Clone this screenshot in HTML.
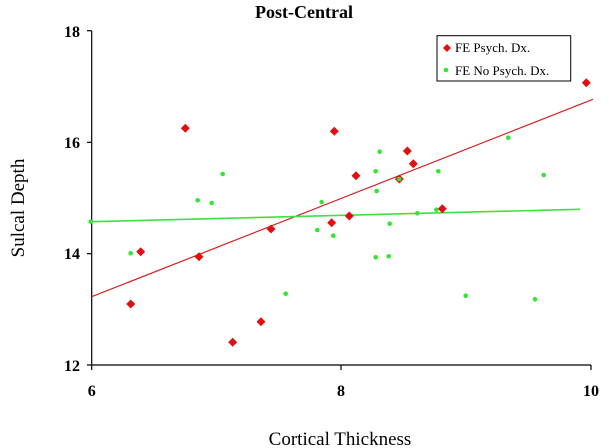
<!DOCTYPE html>
<html><head><style>html,body{margin:0;padding:0;background:#fff;}svg{display:block;}</style></head>
<body>
<svg width="609" height="448" viewBox="0 0 609 448" xmlns="http://www.w3.org/2000/svg" font-family="Liberation Serif, serif">
<rect width="609" height="448" fill="#fff"/>
<text x="304" y="18" font-size="18" font-weight="bold" text-anchor="middle">Post-Central</text>
<g stroke="#000" stroke-width="1.2">
<line x1="91.7" y1="30.7" x2="91.7" y2="365"/>
<line x1="91.7" y1="365" x2="591" y2="365"/>
<line x1="87" y1="30.7" x2="91.7" y2="30.7"/>
<line x1="87" y1="142.3" x2="91.7" y2="142.3"/>
<line x1="87" y1="253.7" x2="91.7" y2="253.7"/>
<line x1="87" y1="365" x2="91.7" y2="365"/>
<line x1="91.7" y1="365" x2="91.7" y2="370"/>
<line x1="341" y1="365" x2="341" y2="370"/>
<line x1="591" y1="365" x2="591" y2="370"/>
</g>
<g font-size="16" font-weight="bold" text-anchor="end">
<text x="80" y="37">18</text>
<text x="80" y="148">16</text>
<text x="80" y="259">14</text>
<text x="80" y="371">12</text>
</g>
<g font-size="16" font-weight="bold" text-anchor="middle">
<text x="91.7" y="396">6</text>
<text x="341" y="396">8</text>
<text x="591" y="396">10</text>
</g>
<text x="340" y="445" font-size="19" text-anchor="middle">Cortical Thickness</text>
<text transform="translate(24,208) rotate(-90)" font-size="19" text-anchor="middle">Sulcal Depth</text>
<line x1="91.7" y1="296.7" x2="593" y2="99.3" stroke="#d42020" stroke-width="1.2"/>
<line x1="91.7" y1="221.7" x2="580" y2="209.3" stroke="#40e040" stroke-width="1.6"/>
<g fill="#33e633">
<circle cx="90.7" cy="221.7" r="2.3"/><circle cx="130.7" cy="253.3" r="2.3"/><circle cx="197.7" cy="200.3" r="2.3"/>
<circle cx="211.7" cy="203" r="2.3"/><circle cx="222.7" cy="174" r="2.3"/><circle cx="285.7" cy="293.7" r="2.3"/>
<circle cx="317.3" cy="230" r="2.3"/><circle cx="321.7" cy="202" r="2.3"/><circle cx="333.3" cy="235.7" r="2.3"/>
<circle cx="375.7" cy="171.3" r="2.3"/><circle cx="379.7" cy="151.7" r="2.3"/><circle cx="376.7" cy="191" r="2.3"/>
<circle cx="375.7" cy="257.3" r="2.3"/><circle cx="388.7" cy="256.3" r="2.3"/><circle cx="389.7" cy="223.7" r="2.3"/>
<circle cx="417.3" cy="213.3" r="2.3"/><circle cx="436.3" cy="209.7" r="2.3"/>
<circle cx="438.3" cy="171.3" r="2.3"/><circle cx="465.7" cy="295.7" r="2.3"/><circle cx="508.3" cy="137.7" r="2.3"/>
<circle cx="535" cy="299.3" r="2.3"/><circle cx="543.7" cy="175" r="2.3"/>
</g>
<g fill="#e01010">
<path d="M0,-4.5L4.5,0L0,4.5L-4.5,0Z" transform="translate(130.7,304)"/>
<path d="M0,-4.5L4.5,0L0,4.5L-4.5,0Z" transform="translate(140.7,251.7)"/>
<path d="M0,-4.5L4.5,0L0,4.5L-4.5,0Z" transform="translate(185.3,128.3)"/>
<path d="M0,-4.5L4.5,0L0,4.5L-4.5,0Z" transform="translate(199,256.7)"/>
<path d="M0,-4.5L4.5,0L0,4.5L-4.5,0Z" transform="translate(232.7,342.3)"/>
<path d="M0,-4.5L4.5,0L0,4.5L-4.5,0Z" transform="translate(261,321.7)"/>
<path d="M0,-4.5L4.5,0L0,4.5L-4.5,0Z" transform="translate(271,229)"/>
<path d="M0,-4.5L4.5,0L0,4.5L-4.5,0Z" transform="translate(331.7,222.7)"/>
<path d="M0,-4.5L4.5,0L0,4.5L-4.5,0Z" transform="translate(334.3,131.3)"/>
<path d="M0,-4.5L4.5,0L0,4.5L-4.5,0Z" transform="translate(349.3,216)"/>
<path d="M0,-4.5L4.5,0L0,4.5L-4.5,0Z" transform="translate(356,175.7)"/>
<path d="M0,-4.5L4.5,0L0,4.5L-4.5,0Z" transform="translate(399.3,179)"/>
<path d="M0,-4.5L4.5,0L0,4.5L-4.5,0Z" transform="translate(407.3,151)"/>
<path d="M0,-4.5L4.5,0L0,4.5L-4.5,0Z" transform="translate(413.3,163.7)"/>
<path d="M0,-4.5L4.5,0L0,4.5L-4.5,0Z" transform="translate(442.3,208.7)"/>
<path d="M0,-4.5L4.5,0L0,4.5L-4.5,0Z" transform="translate(586.3,82.7)"/>
</g>
<circle cx="399.3" cy="179" r="2.3" fill="#33e633"/>
<rect x="437" y="35.7" width="133.7" height="45.3" fill="#fff" stroke="#000" stroke-width="1"/>
<path d="M0,-4L4,0L0,4L-4,0Z" transform="translate(447,48)" fill="#e01010"/>
<circle cx="446" cy="70" r="2.3" fill="#33e633"/>
<g font-size="13">
<text x="455" y="52">FE Psych. Dx.</text>
<text x="455" y="75">FE No Psych. Dx.</text>
</g>
</svg>
</body></html>
